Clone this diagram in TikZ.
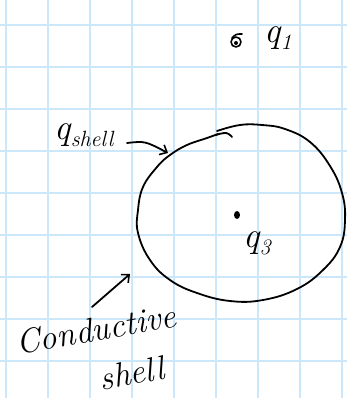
\documentclass[tikz,border=0pt]{standalone}
\usepackage{fontspec}
\usetikzlibrary{arrows.meta}
\definecolor{gridblue}{RGB}{204,230,250}
\newcommand{\subtxt}[1]{\raisebox{-7pt}{\fontsize{22}{22}\selectfont #1}}
\begin{document}
\begin{tikzpicture}[x=1pt,y=-1pt,
  ink/.style={line width=1.8pt, line cap=round, line join=round},
  gridline/.style={gridblue, line width=1.2pt},
  lbl/.style={inner sep=0pt, font=\fontsize{36}{38}\selectfont\itshape},
  word/.style={inner sep=0pt, font=\fontsize{34}{36}\selectfont\itshape},
  arr/.style={ink, -{Straight Barb[length=6pt,width=11pt,line width=1.6pt]}}]
\useasboundingbox[fill=white] (0,0) rectangle (347,398);
\foreach \x in {6,48,...,342} \draw[gridline] (\x,0) -- (\x,398);
\foreach \y in {25,67,...,361} \draw[gridline] (0,\y) -- (347,\y);
% conductive shell outline (hand drawn)
\draw[ink] plot[smooth, tension=0.7] coordinates {(217,131) (240,125) (262,125) (285,129) (310,142) (330,166) (342,193) (345,220) (340,247) (323,270) (297,289) (263,300) (230,301) (197,293) (170,280) (150,260) (138,233) (138,210) (143,187) (157,167) (170,155) (187,145) (207,138) (218,134)};
\draw[ink] plot[smooth, tension=0.7] coordinates {(216,135) (226,133) (232,137)};
% charge q1
\draw[ink, line width=1.6pt] (236,42) circle[radius=5pt];
\draw[ink, line width=1.6pt] (242,34) .. controls (236,34) .. (232,38);
\fill (236,43) circle[radius=2pt];
\node[lbl] (q1) at (278,38) {q\subtxt{1}};
% charge q3
\fill (237,215) ellipse[x radius=3pt, y radius=4pt];
\node[lbl] (q3) at (257,243) {q\subtxt{3}};
% labels
\node[lbl] (qs) at (84,135) {q\subtxt{shell}};
\node[word, rotate=10] (cond) at (96,329) {Conductive};
\node[word, rotate=10] (shl) at (132,373) {shell};
% arrows
\coordinate (qsT) at (127,143);
\coordinate (qsH) at (168,153);
\coordinate (cdT) at (92,307);
\coordinate (cdH) at (130,274);
\draw[arr] (qsT) .. controls (145,141) .. (qsH);
\draw[arr] (cdT) -- (cdH);
\end{tikzpicture}
\end{document}
